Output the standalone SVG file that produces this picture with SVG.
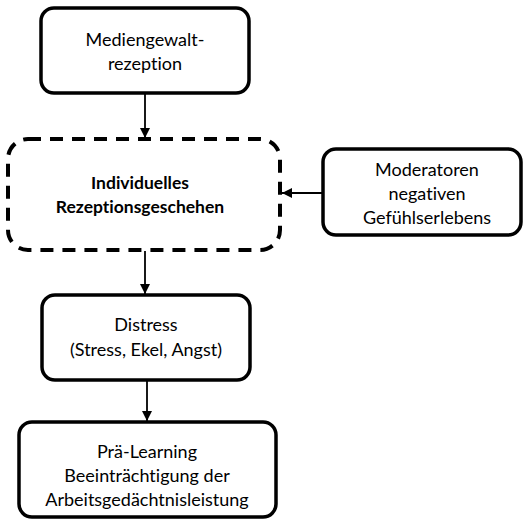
<svg xmlns="http://www.w3.org/2000/svg" width="528" height="528" viewBox="0 0 528 528">
<defs>
<style>
.box{fill:#fff;stroke:#000;stroke-width:3.5}
.dash{fill:#fff;stroke:#000;stroke-width:4;stroke-dasharray:13 9}
.t{font-family:Lato,"Open Sans",sans-serif;font-size:18px;fill:#000;text-anchor:middle;font-variant-ligatures:none}
.b{font-weight:bold;font-size:17.5px}
.c{stroke:#000;stroke-width:1.8;fill:none;marker-end:url(#ah)}
</style>
<marker id="ah" viewBox="0 0 10 10" refX="10" refY="5" markerWidth="10" markerHeight="10" markerUnits="userSpaceOnUse" orient="auto">
<path d="M0,0 L10,5 L0,10 z" fill="#000"/>
</marker>
</defs>
<rect width="528" height="528" fill="#fff"/>
<g id="connectors">
<line class="c" x1="145" y1="93" x2="145" y2="138"/>
<line class="c" x1="322" y1="193" x2="282" y2="193"/>
<line class="c" x1="145" y1="251" x2="145" y2="294"/>
<line class="c" x1="147" y1="380" x2="147" y2="421"/>
</g>
<g id="n1">
<rect class="box" x="41" y="8" width="208" height="85" rx="13"/>
<text class="t" x="145" y="46">Mediengewalt-</text>
<text class="t" x="145" y="70">rezeption</text>
</g>
<g id="n2">
<rect class="dash" x="8" y="139" width="272" height="111" rx="20"/>
<text class="t b" x="140" y="189">Individuelles</text>
<text class="t b" x="140" y="213">Rezeptionsgeschehen</text>
</g>
<g id="n3">
<rect class="box" x="323" y="149" width="198" height="86" rx="13"/>
<text class="t" x="427" y="176">Moderatoren</text>
<text class="t" x="427" y="200">negativen</text>
<text class="t" x="427" y="224">Gefühlserlebens</text>
</g>
<g id="n4">
<rect class="box" x="42" y="295" width="208" height="85" rx="13"/>
<text class="t" x="146" y="331">Distress</text>
<text class="t" x="146" y="356">(Stress, Ekel, Angst)</text>
</g>
<g id="n5">
<rect class="box" x="19" y="422" width="257" height="95" rx="13"/>
<text class="t" x="147" y="458">Prä-Learning</text>
<text class="t" x="147" y="482">Beeinträchtigung der</text>
<text class="t" x="147" y="506">Arbeitsgedächtnisleistung</text>
</g>
</svg>
